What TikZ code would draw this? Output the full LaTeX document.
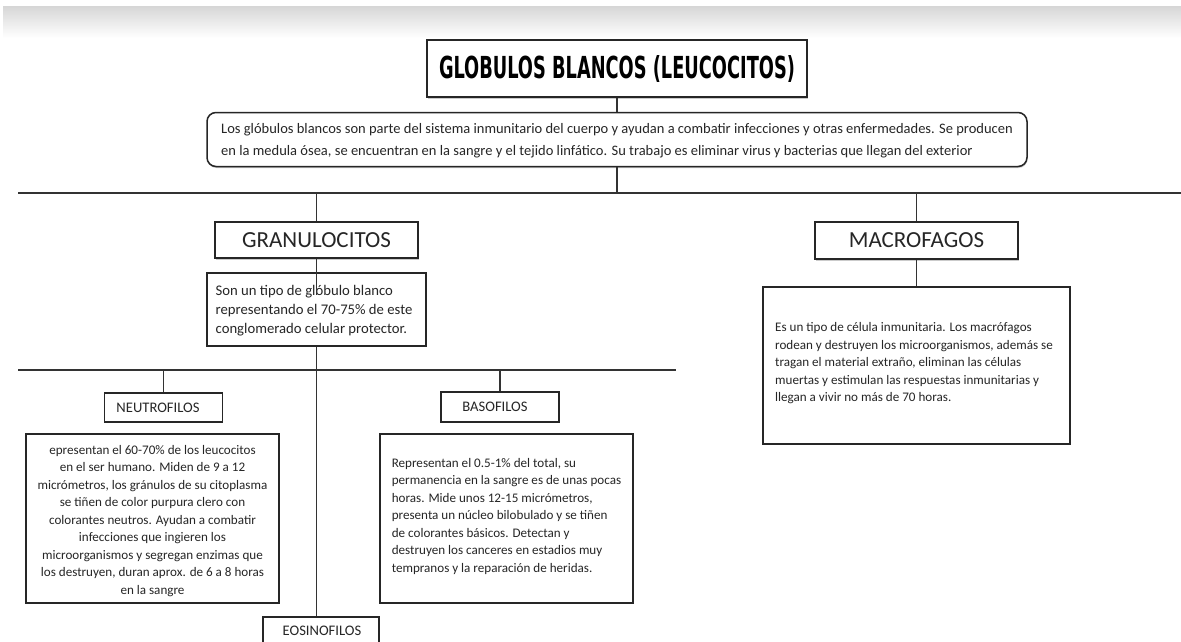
\documentclass[tikz,border=0pt]{standalone}
\usepackage{fontspec}
\usepackage{graphicx}
\setmainfont{Carlito}
\newfontfamily\titlefont{DejaVu Sans Condensed}
\usetikzlibrary{shadows}
\begin{document}
\begin{tikzpicture}[x=1pt,y=-1pt,
 conn/.style={draw=black!80, line width=1.1pt},
 box/.style={draw=black!85, line width=1.1pt, fill=white, inner sep=0pt},
 sbox/.style={box, line width=1.5pt, drop shadow={shadow xshift=0.5pt, shadow yshift=-1.5pt, fill=black!45, opacity=0.45}},
 txt/.style={text=black!85, inner sep=0pt},
 body/.style={txt, font=\fontsize{13.1}{17.5}\selectfont},
 head/.style={text=black!85, font=\fontsize{23}{26}\selectfont},
 small/.style={text=black!85, font=\fontsize{14.6}{17}\selectfont}
]
\clip (0,0) rectangle (1181,641);
\fill[white] (0,0) rectangle (1181,641);
\shade[top color=black!16, bottom color=white] (3,6) rectangle (1181,38);

% title
\node[sbox, minimum width=380, minimum height=57] (title) at (617,68.5) {\resizebox{356pt}{23pt}{\titlefont\bfseries GLOBULOS BLANCOS (LEUCOCITOS)}};
% main description
\node[sbox, rounded corners=9pt, minimum width=820, minimum height=54] (desc) at (617,139.5) {};
\node[txt, align=left, font=\fontsize{14.5}{22}\selectfont] (desct) at (617,141) {Los glóbulos blancos son parte del sistema inmunitario del cuerpo y ayudan a combatir infecciones y otras enfermedades. Se producen\\en la medula ósea, se encuentran en la sangre y el tejido linfático. Su trabajo es eliminar virus y bacterias que llegan del exterior};

\coordinate (h1) at (617,193);
\coordinate (h1L) at (18,193);
\coordinate (h1R) at (1181,193);

% second level
\node[sbox, minimum width=203, minimum height=36] (gran) at (316.5,240) {};
\node[head] (grant) at (316.5,240) {GRANULOCITOS};
\node[sbox, minimum width=203, minimum height=37] (macro) at (916.5,240.5) {};
\node[head] (macrot) at (916.5,240.5) {MACROFAGOS};

\node[box, minimum width=219, minimum height=73] (grand) at (316.5,309.5) {};
\node[txt, align=left, font=\fontsize{14.7}{19}\selectfont] (grandt) at (314,311) {Son un tipo de glóbulo blanco\\representando el 70-75\% de este\\conglomerado celular protector.};
\coordinate (granend) at (316.5,295);

\node[box, minimum width=307, minimum height=157] (macrod) at (916.5,365.5) {};
\node[body, align=left] (macrodt) at (914,363.5) {Es un tipo de célula inmunitaria. Los macrófagos\\rodean y destruyen los microorganismos, además se\\tragan el material extraño, eliminan las células\\muertas y estimulan las respuestas inmunitarias y\\llegan a vivir no más de 70 horas.};

\coordinate (h2) at (316.5,370);
\coordinate (h2L) at (18,370);
\coordinate (h2R) at (676,370);

% third level
\node[box, minimum width=118, minimum height=29] (neut) at (163.5,407.5) {};
\node[small] (neutt) at (158,408) {NEUTROFILOS};
\node[box, minimum width=118, minimum height=30] (baso) at (500,407) {};
\node[small] (basot) at (495,407) {BASOFILOS};
\node[box, minimum width=116, minimum height=28] (eosi) at (321,631) {};
\node[small] (eosit) at (322,631) {EOSINOFILOS};

\node[box, minimum width=253, minimum height=169] (neutd) at (152.5,518.5) {};
\node[body, align=center] (neutdt) at (152.5,521) {epresentan el 60-70\% de los leucocitos\\en el ser humano. Miden de 9 a 12\\micrómetros, los gránulos de su citoplasma\\se tiñen de color purpura clero con\\colorantes neutros. Ayudan a combatir\\infecciones que ingieren los\\microorganismos y segregan enzimas que\\los destruyen, duran aprox. de 6 a 8 horas\\en la sangre};

\node[box, minimum width=253, minimum height=169] (basod) at (506.5,518.5) {};
\node[body, align=left] (basodt) at (506.5,516) {Representan el 0.5-1\% del total, su\\permanencia en la sangre es de unas pocas\\horas. Mide unos 12-15 micrómetros,\\presenta un núcleo bilobulado y se tiñen\\de colorantes básicos. Detectan y\\destruyen los canceres en estadios muy\\tempranos y la reparación de heridas.};

% connectors
\draw[conn] (title.south) -- (desc.north);
\draw[conn] (desc.south) -- (h1);
\draw[conn] (h1L) -- (h1R);
\draw[conn] (gran.north |- h1) -- (gran.north);
\draw[conn] (macro.north |- h1) -- (macro.north);
\draw[conn] (gran.south) -- (granend);
\draw[conn] (macro.south) -- (macrod.north);
\draw[conn] (grand.south) -- (grand.south |- eosi.north);
\draw[conn] (h2L) -- (h2R);
\draw[conn] (neut.north |- h2) -- (neut.north);
\draw[conn] (baso.north |- h2) -- (baso.north);
\end{tikzpicture}
\end{document}
